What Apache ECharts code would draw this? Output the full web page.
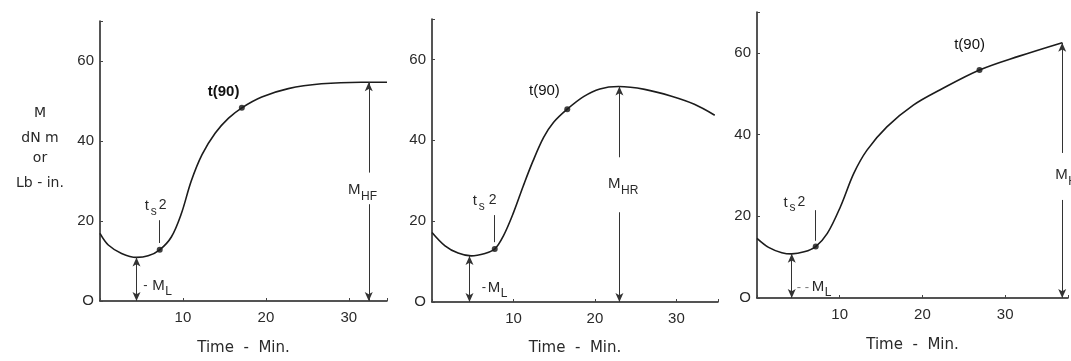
<!DOCTYPE html>
<html>
<head>
<meta charset="utf-8">
<script src="https://cdn.jsdelivr.net/npm/echarts@6/dist/echarts.min.js"></script>
<style>
html,body{margin:0;padding:0;background:#fff;}
#c{width:1071px;height:361px;}
</style>
</head>
<body>
<div id="c"></div>
<script>
// ---- data (time in min, torque M) ----
const t1 = [0, 1.0, 2.6, 4.4, 5.8, 7.2, 8.6, 9.8, 11.0, 12.3, 13.9, 15.5, 17.1, 19.5, 22.7, 26.7, 31.5, 34.6];
const m1 = [16.9, 14.0, 11.9, 10.9, 11.3, 12.8, 16.0, 21.8, 30.0, 36.6, 42.0, 45.7, 48.3, 51.0, 53.1, 54.3, 54.7, 54.7];
const t2 = [0, 1.6, 3.2, 4.8, 6.5, 7.7, 8.75, 10.0, 11.2, 12.4, 13.7, 14.9, 16.6, 18.6, 20.6, 22.9, 26.1, 29.4, 32.2, 34.7];
const m2 = [17.2, 13.9, 12.1, 11.4, 12.0, 13.1, 16.3, 22.1, 28.7, 34.9, 40.7, 44.4, 47.7, 50.8, 52.7, 53.3, 52.6, 50.9, 48.9, 46.2];
const t3 = [0, 1.4, 3.0, 4.2, 5.7, 7.1, 8.5, 10.1, 11.7, 13.3, 15.7, 18.9, 22.1, 26.9, 31.7, 36.9];
const m3 = [14.6, 12.4, 11.1, 10.8, 11.3, 12.6, 15.8, 22.4, 30.5, 36.2, 41.9, 47.2, 50.9, 55.8, 59.2, 62.5];

// key points: ts2 and t(90)
const keyT1 = [7.2, 17.1], keyM1 = [12.8, 48.3];
const keyT2 = [7.7, 16.6], keyM2 = [13.1, 47.7];
const keyT3 = [7.1, 26.9], keyM3 = [12.6, 55.8];

// M_L (minimum) and M_H (max) arrows: [time, value]
const mlPts = [[4.4, 10.9], [4.6, 11.4], [4.2, 10.8]];
const mhPts = [[32.4, 54.7], [23.0, 53.3], [36.9, 62.5]];
const mhGap = [[24.2, 32.1], [22.2, 35.8], [24.0, 35.5]];
const tsTick = [[7.1, 14.5, 20.2], [7.7, 14.8, 21.5], [7.0, 14.0, 21.5]];
const mhSub = ['HF', 'HR', 'H'];

// annotation anchors (data coords)
const t90Pos = [[14.9, 52.4], [13.8, 52.3], [25.7, 62.0]];
const ts2Pos = [[5.4, 23.7], [5.0, 24.9], [3.2, 23.3]];
const mlPos = [[5.2, 3.9], [6.1, 3.5], [4.8, 2.7]];
const mhPos = [[29.9, 27.9], [21.6, 29.3], [36.05, 30.1]];

const yTicks = [0, 20, 40, 60];
const xTicks = [10, 20, 30];
const xMax = [34.6, 35.1, 37.6];

const FONT = 'Liberation Sans, Arial, sans-serif';
const INK = '#1c1c1c';
const TXT = '#2a2a2a';

const grids = [
  {left: 100, top: 21, width: 287, height: 284},
  {left: 432, top: 19, width: 286, height: 284},
  {left: 757, top: 12, width: 314, height: 286}
];
const nameGaps = [40, 39, 40];

const xAxes = grids.map((g, i) => ({
  type: 'value', gridIndex: i, min: 0, max: xMax[i], interval: 10,
  name: 'Time  -  Min.', nameLocation: 'middle', nameGap: nameGaps[i],
  nameTextStyle: {fontFamily: 'DejaVu Sans, sans-serif', fontSize: 15, color: TXT},
  axisLine: {show: true, onZero: false, lineStyle: {color: INK, width: 1.5}},
  axisTick: {show: true, inside: true, length: 3, lineStyle: {color: '#444', width: 1}},
  axisLabel: {margin: 9, fontSize: 15, fontFamily: FONT, color: TXT,
    formatter: v => xTicks.indexOf(Math.round(v * 1000) / 1000) >= 0 ? String(v) : ''},
  splitLine: {show: false}
}));
const yAxes = grids.map((g, i) => ({
  type: 'value', gridIndex: i, min: 0, max: 70, interval: 20,
  axisLine: {show: true, onZero: false, lineStyle: {color: INK, width: 1.5}},
  axisTick: {show: true, inside: true, length: 3, lineStyle: {color: '#444', width: 1}},
  axisLabel: {margin: 6, fontSize: 15, fontFamily: FONT, color: TXT,
    formatter: v => yTicks.indexOf(v) >= 0 ? (v === 0 ? 'O' : String(v)) : ''},
  splitLine: {show: false}
}));

const curves = [[t1, m1], [t2, m2], [t3, m3]];
const keys = [[keyT1, keyM1], [keyT2, keyM2], [keyT3, keyM3]];

const series = [];
curves.forEach((c, i) => {
  const ml = mlPts[i], mh = mhPts[i], gap = mhGap[i], tk = tsTick[i];
  series.push({
    type: 'line', xAxisIndex: i, yAxisIndex: i,
    data: c[0].map((t, k) => [t, c[1][k]]),
    smooth: 0.35, showSymbol: false, symbol: 'none',
    lineStyle: {color: INK, width: 1.6},
    markLine: {
      silent: true, symbolSize: [6, 9], label: {show: false},
      lineStyle: {color: '#333', width: 1, type: 'solid'},
      emphasis: {disabled: true},
      data: [
        [{coord: [ml[0], 0], symbol: 'arrow'}, {coord: [ml[0], ml[1]], symbol: 'arrow'}],
        [{coord: [mh[0], 0], symbol: 'arrow'}, {coord: [mh[0], gap[0]], symbol: 'none'}],
        [{coord: [mh[0], gap[1]], symbol: 'none'}, {coord: [mh[0], mh[1]], symbol: 'arrow'}],
        [{coord: [tk[0], tk[1]], symbol: 'none'}, {coord: [tk[0], tk[2]], symbol: 'none'}]
      ]
    }
  });
  series.push({
    type: 'scatter', xAxisIndex: i, yAxisIndex: i,
    data: keys[i][0].map((t, k) => [t, keys[i][1][k]]),
    symbol: 'circle', symbolSize: 6, itemStyle: {color: '#111'}, silent: true
  });
});

const chart = echarts.init(document.getElementById('c'), null, {renderer: 'canvas'});
chart.setOption({
  animation: false,
  backgroundColor: '#ffffff',
  grid: grids,
  xAxis: xAxes,
  yAxis: yAxes,
  series: series
});

// ---- annotation texts ----
const elems = [];
function put(gi, coord, parts, align) {
  const p = chart.convertToPixel({gridIndex: gi}, coord);
  parts.forEach(pt => {
    elems.push({
      type: 'text', x: p[0] + (pt.dx || 0), y: p[1] + (pt.dy || 0), silent: true,
      style: {
        text: pt.text, fontSize: pt.size || 15, fontFamily: pt.family || FONT,
        fontWeight: pt.weight || 'normal', fill: pt.color || TXT,
        textAlign: align || 'left', align: align || 'left',
        textVerticalAlign: 'middle', verticalAlign: 'middle'
      }
    });
  });
}
for (let i = 0; i < 3; i++) {
  put(i, t90Pos[i], [{text: 't(90)', size: 15, weight: i === 0 ? 'bold' : 'normal', color: '#111'}], 'center');
  put(i, ts2Pos[i], [
    {text: 't', size: 15},
    {text: 's', size: 12, dx: 6, dy: 5},
    {text: '2', size: 14, dx: i === 1 ? 16 : 14, dy: -1}
  ]);
  const dash = i === 2 ? '- -' : '-';
  const mdx = i === 0 ? 9 : (i === 1 ? 6 : 15);
  put(i, mlPos[i], [
    {text: dash, size: 13, color: i === 2 ? '#777' : TXT},
    {text: 'M', size: 15, dx: mdx},
    {text: 'L', size: 12, dx: mdx + 13, dy: 6}
  ]);
  put(i, mhPos[i], [
    {text: 'M', size: 15},
    {text: mhSub[i], size: 12, dx: 13, dy: 7}
  ]);
}
// y-axis title block of first panel
const yTitle = ['M', 'dN m', 'or', 'Lb - in.'];
const yTitleY = [113, 138, 158, 183];
yTitle.forEach((s, k) => {
  elems.push({
    type: 'text', x: 40, y: yTitleY[k], silent: true,
    style: {text: s, fontSize: 14, fontFamily: 'DejaVu Sans, sans-serif', fill: TXT,
      textAlign: 'center', align: 'center', textVerticalAlign: 'middle', verticalAlign: 'middle'}
  });
});
chart.setOption({graphic: {elements: elems}});
</script>
</body>
</html>
